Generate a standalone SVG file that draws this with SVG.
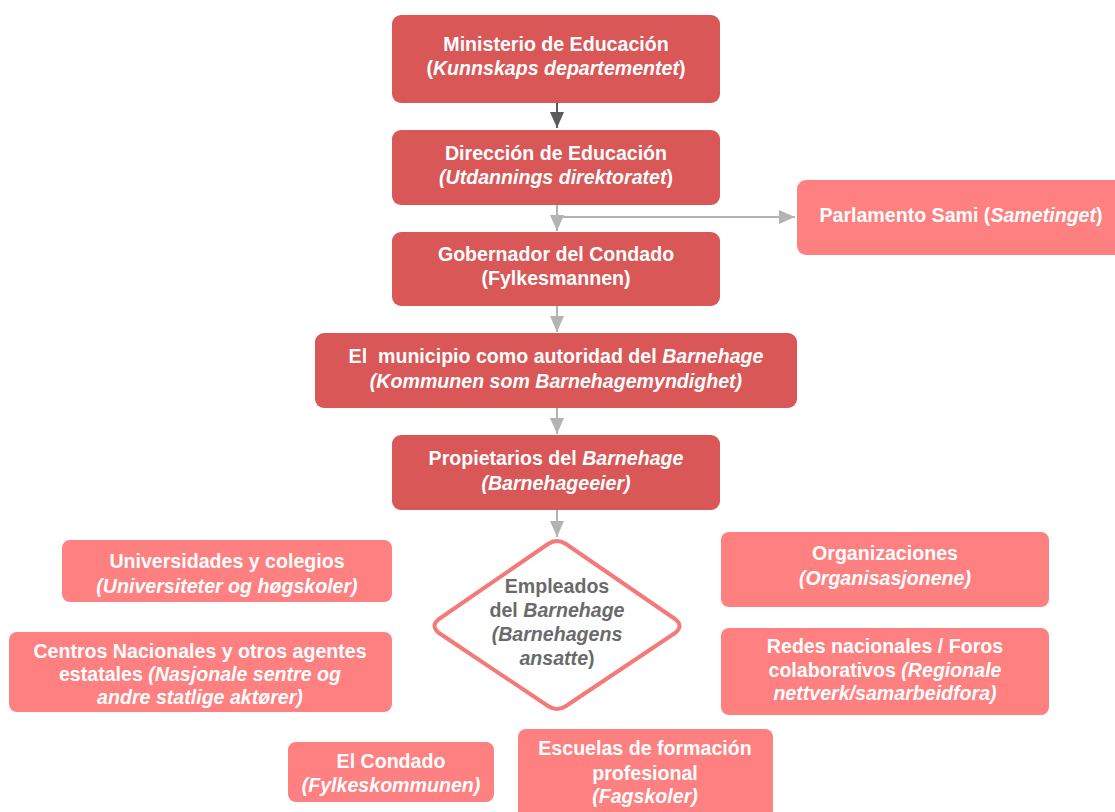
<svg xmlns="http://www.w3.org/2000/svg" width="1115" height="812" viewBox="0 0 1115 812">
<defs>
<style>
.dark{fill:#d95757;}
.light{fill:#ff8080;}
.t{font-family:"Liberation Sans",Arial,sans-serif;font-size:19.6px;font-weight:bold;fill:#ffffff;text-anchor:middle;}
.dt{font-family:"Liberation Sans",Arial,sans-serif;font-size:19.6px;font-weight:bold;fill:#6a6a6a;text-anchor:middle;}
.i{font-style:italic;}
.c{stroke:#b3b3b3;stroke-width:2;fill:none;}
.cd{stroke:#5c5c5c;stroke-width:2;fill:none;}
</style>
<marker id="ag" markerWidth="16" markerHeight="14" refX="16" refY="7" orient="auto" markerUnits="userSpaceOnUse" viewBox="0 0 16 14">
<path d="M0,0 L16,7 L0,14 Z" fill="#b3b3b3"/>
</marker>
<marker id="ad" markerWidth="16" markerHeight="14" refX="16" refY="7" orient="auto" markerUnits="userSpaceOnUse" viewBox="0 0 16 14">
<path d="M0,0 L16,7 L0,14 Z" fill="#5c5c5c"/>
</marker>
</defs>
<rect width="1115" height="812" fill="#ffffff"/>
<g id="connectors">
<path class="cd" d="M557,103 L557,128" marker-end="url(#ad)"/>
<path class="c" d="M557,205 L557,231" marker-end="url(#ag)"/>
<path class="c" d="M557,217 L795,217" marker-end="url(#ag)"/>
<path class="c" d="M557,306 L557,332" marker-end="url(#ag)"/>
<path class="c" d="M557,408 L557,434" marker-end="url(#ag)"/>
<path class="c" d="M557,510 L557,537" marker-end="url(#ag)"/>
</g>
<g id="ministerio">
<rect class="dark" x="392" y="15" width="328" height="88" rx="9"/>
<text class="t" x="556" y="51">Ministerio de Educación</text>
<text class="t" x="556" y="75">(<tspan class="i">Kunnskaps departementet</tspan>)</text>
</g>
<g id="direccion">
<rect class="dark" x="392" y="130" width="328" height="75" rx="9"/>
<text class="t" x="556" y="160">Dirección de Educación</text>
<text class="t" x="556" y="184"><tspan class="i">(Utdannings direktoratet</tspan>)</text>
</g>
<g id="parlamento">
<rect class="light" x="797" y="180" width="330" height="75" rx="9"/>
<text class="t" x="961" y="222">Parlamento Sami (<tspan class="i">Sametinget</tspan>)</text>
</g>
<g id="gobernador">
<rect class="dark" x="392" y="232" width="328" height="74" rx="9"/>
<text class="t" x="556" y="261">Gobernador del Condado</text>
<text class="t" x="556" y="285">(Fylkesmannen)</text>
</g>
<g id="municipio">
<rect class="dark" x="315" y="333" width="482" height="75" rx="9"/>
<text class="t" x="556" y="363" xml:space="preserve">El  municipio como autoridad del <tspan class="i">Barnehage</tspan></text>
<text class="t i" x="556" y="388">(Kommunen som Barnehagemyndighet)</text>
</g>
<g id="propietarios">
<rect class="dark" x="392" y="435" width="328" height="75" rx="9"/>
<text class="t" x="556" y="465">Propietarios del <tspan class="i">Barnehage</tspan></text>
<text class="t i" x="556" y="490">(Barnehageeier)</text>
</g>
<g id="empleados">
<path d="M548,544 Q557,538 566,544 L675,619 Q684,626 675,633 L566,706 Q557,712 548,706 L439,633 Q430,626 439,619 Z" fill="#ffffff" stroke="#f47a7a" stroke-width="4" stroke-linejoin="round"/>
<text class="dt" x="557" y="593">Empleados</text>
<text class="dt" x="557" y="617">del <tspan class="i">Barnehage</tspan></text>
<text class="dt i" x="557" y="641">(Barnehagens</text>
<text class="dt" x="557" y="665"><tspan class="i">ansatte</tspan>)</text>
</g>
<g id="universidades">
<rect class="light" x="62" y="540" width="330" height="62" rx="8"/>
<text class="t" x="227" y="568">Universidades y colegios</text>
<text class="t i" x="227" y="593">(Universiteter og høgskoler)</text>
</g>
<g id="centros">
<rect class="light" x="9" y="632" width="383" height="80" rx="8"/>
<text class="t" x="200" y="658">Centros Nacionales y otros agentes</text>
<text class="t" x="200" y="681">estatales <tspan class="i">(Nasjonale sentre og</tspan></text>
<text class="t i" x="200" y="704">andre statlige aktører)</text>
</g>
<g id="organizaciones">
<rect class="light" x="721" y="532" width="328" height="75" rx="8"/>
<text class="t" x="885" y="560">Organizaciones</text>
<text class="t i" x="885" y="585">(Organisasjonene)</text>
</g>
<g id="redes">
<rect class="light" x="721" y="628" width="328" height="87" rx="8"/>
<text class="t" x="885" y="653">Redes nacionales / Foros</text>
<text class="t" x="885" y="677">colaborativos <tspan class="i">(Regionale</tspan></text>
<text class="t i" x="885" y="700">nettverk/samarbeidfora)</text>
</g>
<g id="condado">
<rect class="light" x="288" y="742" width="206" height="60" rx="8"/>
<text class="t" x="391" y="768">El Condado</text>
<text class="t i" x="391" y="792">(Fylkeskommunen)</text>
</g>
<g id="escuelas">
<rect class="light" x="518" y="729" width="255" height="90" rx="8"/>
<text class="t" x="645" y="755">Escuelas de formación</text>
<text class="t" x="645" y="780">profesional</text>
<text class="t i" x="645" y="803">(Fagskoler)</text>
</g>
</svg>
